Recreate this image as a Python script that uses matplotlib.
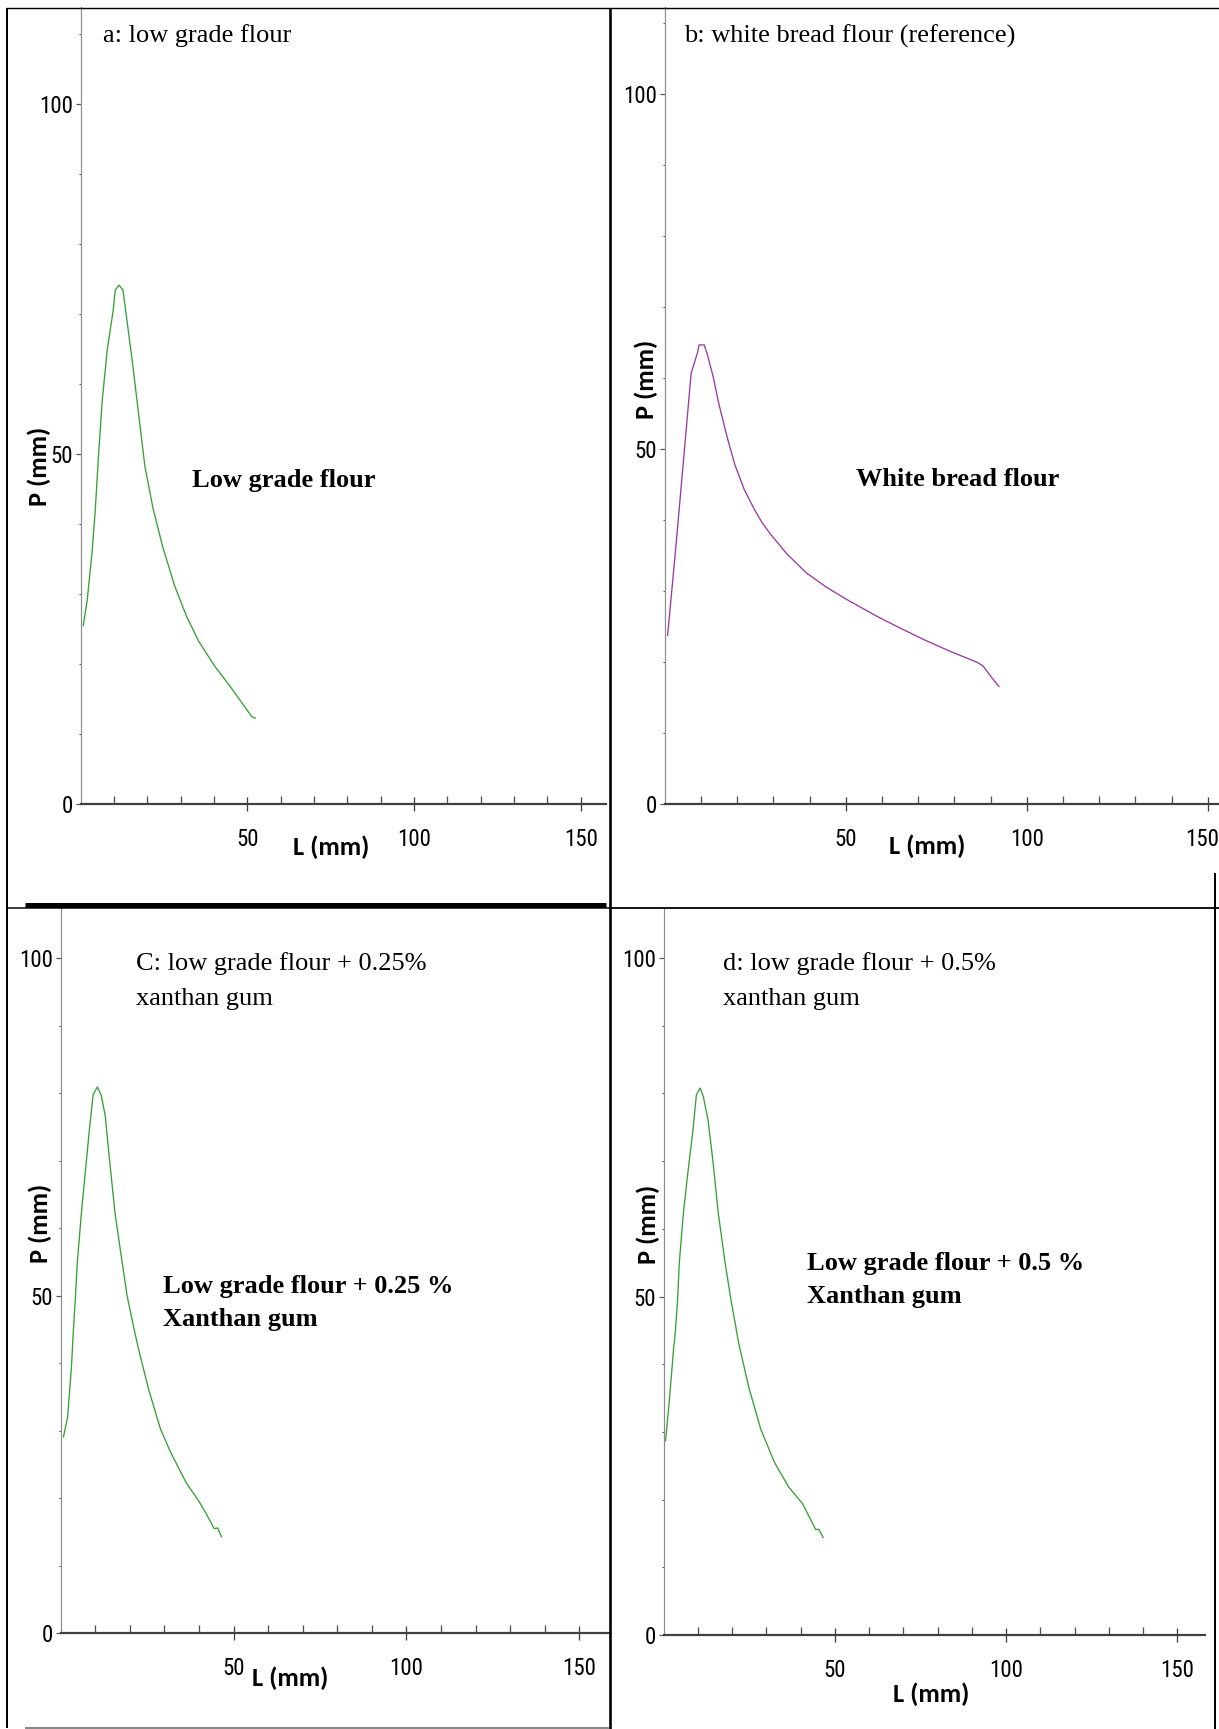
import matplotlib
matplotlib.use('Agg')
import matplotlib.pyplot as plt
from matplotlib import font_manager as fm
from matplotlib.lines import Line2D
from matplotlib.transforms import ScaledTranslation

W, H = 1219, 1729
DPI = 100

# alveograph curves, L (mm) against P (mm)
L_a = [0.8, 2.0, 3.5, 4.4, 5.4, 6.5, 8.0, 9.8, 10.4, 11.5, 12.7, 13.9, 15.7, 17.5,
       19.3, 21.7, 24.6, 28.2, 31.8, 35.4, 40.1, 44.9, 48.5, 51.4, 52.4]
P_a = [25.5, 29.2, 36.3, 42.0, 50.0, 57.7, 64.9, 70.6, 73.4, 74.1, 73.4, 69.1, 62.5, 55.3,
       48.2, 42.3, 36.8, 31.2, 26.8, 23.3, 19.8, 16.8, 14.4, 12.5, 12.3]

L_b = [0.8, 3.0, 5.2, 7.3, 9.0, 9.5, 10.9, 11.7, 13.4, 15.0, 17.2, 19.4, 22.0, 24.9, 27.0,
       29.3, 33.7, 39.1, 44.6, 50.1, 58.9, 65.5, 72.0, 78.6, 86.3, 87.9, 90.1, 92.3]
P_b = [23.8, 35.8, 48.5, 60.7, 63.5, 64.7, 64.7, 63.5, 60.2, 56.3, 51.8, 47.8, 44.3, 41.4, 39.6,
       38.0, 35.3, 32.6, 30.6, 28.9, 26.4, 24.7, 23.1, 21.6, 20.0, 19.5, 18.0, 16.6]

L_c = [0.8, 2.0, 3.1, 3.7, 4.2, 4.8, 6.0, 7.1, 8.3, 9.4, 10.6, 11.7, 12.9, 14.0, 15.7,
       17.5, 19.2, 21.2, 22.6, 25.5, 28.9, 31.8, 36.4, 39.8, 42.1, 44.4, 45.4, 46.5]
P_c = [29.1, 32.0, 39.4, 45.1, 49.3, 54.9, 62.3, 68.2, 74.6, 79.8, 80.9, 79.7, 76.6, 70.7, 62.3,
       55.9, 50.0, 45.1, 41.9, 36.0, 30.2, 26.8, 22.2, 19.7, 17.7, 15.5, 15.6, 14.3]

L_d = [0.6, 1.7, 2.9, 3.5, 4.1, 4.6, 5.8, 7.2, 8.5, 9.6, 10.7, 11.6, 13.0, 14.5, 16.0,
       18.0, 19.7, 22.0, 24.9, 28.4, 32.4, 36.5, 40.6, 42.3, 44.4, 45.4, 46.6]
P_d = [28.7, 34.6, 42.0, 45.1, 49.4, 54.9, 62.3, 68.7, 74.1, 79.8, 80.8, 79.6, 76.1, 69.7, 62.3,
       54.9, 49.5, 43.0, 36.6, 30.4, 25.5, 21.9, 19.4, 17.7, 15.6, 15.6, 14.4]

x_major = [50, 100, 150]
x_minor = [10, 20, 30, 40, 60, 70, 80, 90, 110, 120, 130, 140]
y_major = [0, 50, 100]
y_minor = [10, 20, 30, 40, 60, 70, 80, 90, 110]

titles = ['a: low grade flour',
          'b: white bread flour (reference)',
          'C: low grade flour + 0.25%\nxanthan gum',
          'd: low grade flour + 0.5%\nxanthan gum']
names = ['Low grade flour',
         'White bread flour',
         'Low grade flour + 0.25 %\nXanthan gum',
         'Low grade flour + 0.5 %\nXanthan gum']


def pick_font(cands):
    for name in cands:
        try:
            fm.findfont(fm.FontProperties(family=name), fallback_to_default=False)
            return name
        except ValueError:
            pass
    return 'DejaVu Sans'


tick_font = pick_font(['Liberation Sans Narrow', 'Roboto Condensed', 'Open Sans Condensed',
                       'Liberation Sans'])
label_font = pick_font(['Carlito', 'Lato', 'Open Sans'])
serif_font = pick_font(['Liberation Serif', 'DejaVu Serif'])

fig = plt.figure(figsize=(W / DPI, H / DPI), dpi=DPI)
fig.patch.set_facecolor('white')


def fx(x):
    return x / W


def fy(y):
    return 1 - y / H


def px(v):
    # pixel width -> points
    return v * 72 / DPI


# panel geometry in pixels: left, top, right, bottom, xmax, ymax
panels = [
    dict(rect=(80.6, 7, 606.3, 804.3), xmax=157.7, ymax=113.8, L=L_a, P=P_a, color='#36a036',
         title=(103, 36), name=(192, 480), ylab=(39, 466), xlab=(331, 847)),
    dict(rect=(664.7, 7, 1219, 804.3), xmax=153.1, ymax=112.3, L=L_b, P=P_b, color='#9a3aa0',
         title=(684, 36), name=(856, 480), ylab=(646, 379), xlab=(927, 846)),
    dict(rect=(60.7, 908, 609, 1633.3), xmax=158.6, ymax=107.4, L=L_c, P=P_c, color='#36a036',
         title=(136, 981), name=(163, 1303), ylab=(40, 1223), xlab=(290, 1678)),
    dict(rect=(663.5, 908, 1205, 1635), xmax=158.1, ymax=107.4, L=L_d, P=P_d, color='#36a036',
         title=(723, 981), name=(807, 1280), ylab=(648, 1224), xlab=(931, 1694)),
]

for i, p in enumerate(panels):
    l, t, r, b = p['rect']
    ax = fig.add_axes([fx(l), fy(b), (r - l) / W, (b - t) / H])
    ax.patch.set_alpha(0)
    ax.plot(p['L'], p['P'], color=p['color'], lw=0.95)
    ax.set_xlim(0, p['xmax'])
    ax.set_ylim(0, p['ymax'])

    ax.spines['top'].set_visible(False)
    ax.spines['right'].set_visible(False)
    ax.spines['left'].set_color('#8c8c8c')
    ax.spines['left'].set_linewidth(px(1.2))
    ax.spines['bottom'].set_color('#404040')
    ax.spines['bottom'].set_linewidth(px(2.2))

    ax.set_xticks(x_major)
    ax.set_xticks(x_minor, minor=True)
    ax.set_yticks(y_major)
    ax.set_yticks([v for v in y_minor if v < p['ymax']], minor=True)
    ax.tick_params(axis='x', which='major', direction='inout', length=px(14), width=px(1.3),
                   color='#404040', pad=12, labelsize=16.5)
    ax.tick_params(axis='x', which='minor', direction='in', length=px(8), width=px(1.3),
                   color='#505050')
    ax.tick_params(axis='y', which='major', direction='out', length=px(5), width=px(1.2),
                   color='#505050', pad=2, labelsize=16.5)
    ax.tick_params(axis='y', which='minor', direction='out', length=px(2.5), width=px(1),
                   color='#505050')
    for lab in ax.get_xticklabels() + ax.get_yticklabels():
        lab.set_family(tick_font)
    if r >= W:
        # last label sits against the right edge of the picture
        last = ax.get_xticklabels()[-1]
        last.set_transform(last.get_transform()
                           + ScaledTranslation(-6 / DPI, 0, fig.dpi_scale_trans))

    ax.set_xlabel('L (mm)', family=label_font, fontweight='bold', fontsize=19,
                  ha='center', va='center')
    ax.xaxis.set_label_coords(fx(p['xlab'][0]), fy(p['xlab'][1]), transform=fig.transFigure)
    ax.set_ylabel('P (mm)', family=label_font, fontweight='bold', fontsize=19,
                  ha='center', va='center')
    ax.yaxis.set_label_coords(fx(p['ylab'][0]), fy(p['ylab'][1]), transform=fig.transFigure)

    fig.text(fx(p['title'][0]), fy(p['title'][1]), titles[i], family=serif_font,
             fontsize=19, ha='left', va='center', linespacing=1.75)
    fig.text(fx(p['name'][0]), fy(p['name'][1]), names[i], family=serif_font,
             fontweight='bold', fontsize=19, ha='left', va='center', linespacing=1.6)


def rule(x0, y0, x1, y1, w, color='black'):
    fig.add_artist(Line2D([fx(x0), fx(x1)], [fy(y0), fy(y1)], transform=fig.transFigure,
                          color=color, lw=px(w), solid_capstyle='butt'))


# table frame around the four panels
rule(6, 8, 1219, 8, 1.4)
rule(7, 8, 7, 1728, 2)
rule(610, 8, 610, 1729, 2.6)
rule(1215, 873, 1215, 1729, 2)
rule(25, 905, 606, 905, 5)
rule(6, 908, 611, 908, 1.5)
rule(610, 907.5, 1219, 907.5, 1.8)
rule(25, 1727.5, 609, 1727.5, 2, '#888888')

fig.savefig('out.png', dpi=DPI, facecolor='white')
